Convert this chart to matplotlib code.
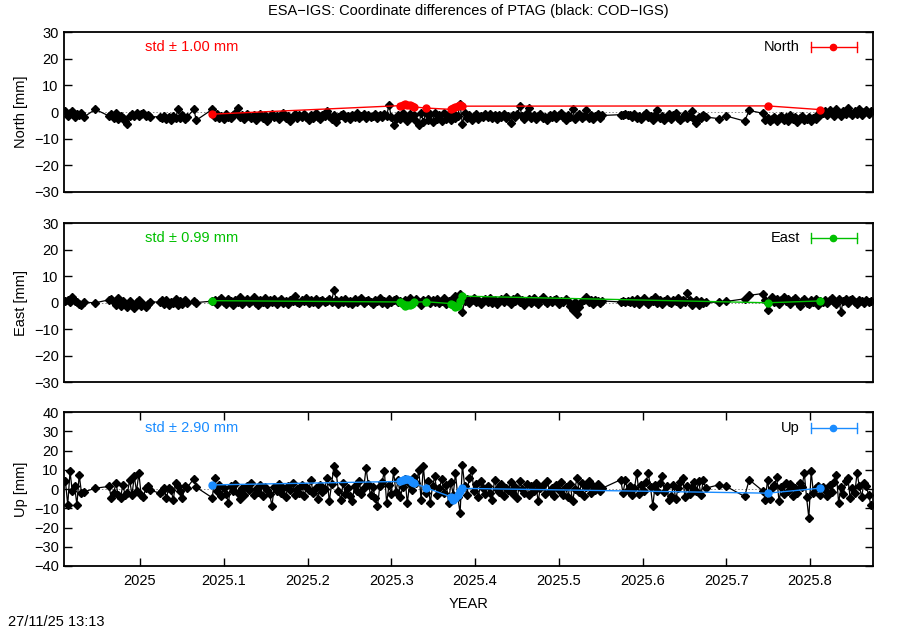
import matplotlib
matplotlib.use("Agg")
import matplotlib.pyplot as plt
import numpy as np

plt.rcParams['font.family'] = ['Liberation Sans', 'DejaVu Sans']
plt.rcParams['axes.unicode_minus'] = True

# COD-IGS daily epochs, day of year 2025 (0 = 1 Jan)
cod_days = (list(range(-33, -24)) + [-20] + list(range(-14, 5)) + list(range(8, 21))
            + [23, 24] + list(range(31, 202)) + list(range(209, 247))
            + [252, 255, 263, 265] + list(range(271, 319)))

cod_north = [
    0.3, -1.5, -0.5, 0.5, -1.8, -0.8, -1.2, -0.3, -1.9,
    1.0,
    -1.5, -0.9, -2.1, -0.2, -2.7, -1.5, -2.1, -3.4, -4.6, -1.5,
    -0.9, -1.5, -0.2, -1.5, -0.9, -0.2, -1.5, -1.0, -1.8,
    -1.8, -2.3, -1.5, -2.7, -2.0, -2.9, -1.6, -2.4, 1.0, -2.2, -1.3, -2.8, -1.9,
    1.0, -3.1,
    1.0, -1.8, -0.6, -2.2, -1.4, -2.8, -0.9, -1.7, -2.4, -1.1,
    -0.2, 1.5, -1.9, -1.3, -2.6, -0.8, -1.6, -2.1, -1.0, -2.9,
    -1.5, -0.7, -2.3, -1.2, -3.2, -1.8, -0.9, -2.0, -1.4, -2.7,
    -1.1, -0.4, -2.2, -1.6, -3.5, -1.9, -0.8, -2.4, -1.3, -2.0,
    -0.6, -1.7, -3.0, -1.2, -2.1, -0.5, -1.9, -2.6, -1.0, -1.6,
    0.3, -1.4, -2.5, -1.1, -3.7, -2.0, -1.3, -0.7, -2.2, -1.5,
    -2.8, -1.0, -1.8, -0.4, -2.3, -1.6, -0.9, -2.1, -1.2, -1.8,
    -1.5, -0.6, -2.4, -1.2, -2.0, -0.8, -1.5, 2.8, -1.8, -5.0,
    -2.5, -1.0, -2.8, -0.4, -1.6, -3.2, -0.9, -2.0, -1.2, -3.5,
    -5.0, -0.5, -3.8, -0.3, -2.9, -0.6, -3.6, -0.2, -2.5, -1.1,
    -3.4, -0.4, -2.7, -0.8, -3.1, -0.5, -2.2, -1.4, 3.0, -4.6,
    -0.5, -2.3, -1.2, -3.0, -1.7, -0.8, -2.5, -1.4, -2.0, -0.9,
    -1.8, -0.6, -2.2, -1.3, -2.8, -1.0, -1.9, -0.7, -2.4, -1.5,
    -4.3, -1.2, -2.0, -0.8, 2.3, -1.6, -2.5, -0.5, 1.6, -2.1,
    -1.0, -2.7, -1.4, -0.6, -2.2, -1.7, -3.0, -1.1, -1.9, -0.9,
    -2.4, -1.3, -0.5, -2.0, -2.9, -1.2, -1.8, 1.0, -2.6, -1.4,
    -0.8, -2.3, -1.5, 0.8, -2.1, -1.0, -2.7, -1.6, -0.7, -2.2,
    -1.3,
    -1.0, -1.2, -0.9, -1.3, -1.1, -1.8, -0.7, -2.2, -1.5, -2.6,
    -1.2, -0.4, -2.0, -1.6, -2.9, -1.0, 0.6, -2.3, -1.4, -3.1,
    -1.9, -0.8, -2.5, -1.3, -0.5, -2.1, -3.0, -1.7, -0.9, -2.2,
    -1.6, 0.4, -2.6, -4.3, -1.8, -2.4, -1.2, -1.9,
    -2.5, -1.5, -3.4, 0.6,
    -0.5, -3.0, -2.2, -3.5, -2.6, -1.8, -3.2, -2.4, -1.5, -2.9,
    -2.0, -3.4, -1.2, -2.7, -1.9, -3.6, -2.3, -1.4, -3.0, -2.5,
    -1.7, -3.3, -2.1, -2.8, -0.6, -1.2, -0.3, 0.2, -1.0, 0.8,
    -0.5, -1.4, 1.2, -0.2, -1.6, 0.5, -0.9, 1.5, -0.4, -1.2,
    0.3, -0.7, 1.0, -1.3, -0.1, 0.6, -0.8, 0.5,
]

cod_east = [
    0.8, 1.0, 0.3, 2.0, 0.5, 0.2, -0.3, -0.8, 0.2,
    0.0,
    1.1, 1.5, 0.3, -0.8, 1.7, -1.2, 0.5, -0.4, -1.5, 0.8,
    -0.6, -1.8, 0.2, 1.0, -1.1, -0.3, -1.6, -0.5, 0.4,
    0.2, 1.2, -0.5, 0.9, -1.0, 0.4, -0.2, 1.4, -0.8, 0.6, -0.3, 1.0, 0.1,
    0.8, 0.1,
    0.6, 1.2, -0.3, 0.9, 1.8, 0.2, -0.6, 1.4, 0.5, -0.9,
    1.0, 0.3, 2.2, -0.4, 0.8, 1.5, -0.2, 0.6, 2.0, 0.1,
    -0.7, 1.1, 0.4, 1.7, -0.3, 0.9, 0.2, 1.3, -0.5, 0.7,
    1.6, 0.0, 0.8, -0.6, 1.2, 0.5, 2.4, 0.3, -0.2, 1.0,
    0.6, 1.9, -0.1, 0.9, 0.4, 1.4, -0.4, 0.7, 1.1, 0.2,
    0.8, 1.6, 0.3, 5.0, 1.2, -0.3, 0.9, 0.4, 1.5, 0.0,
    0.7, -0.5, 1.3, 0.2, 0.9, 1.8, -0.2, 0.6, 1.1, 0.3,
    -0.4, 1.0, 0.5, 1.7, 0.1, 0.8, -0.6, 1.3, 0.4, 0.9,
    1.5, 0.2, 0.7, -0.3, 1.2, 0.6, 1.9, 0.0, 0.8, 1.4,
    0.3, -0.8, 1.0, 0.5, 1.6, -0.2, 0.9, 0.4, 1.3, 0.1,
    0.7, 1.8, -0.4, 0.6, 1.1, 0.2, 2.5, 0.9, 3.2, -3.3,
    0.5, 1.4, -0.2, 0.9, 1.7, 0.3, 1.0, -0.5, 0.8, 1.5,
    0.4, 1.9, 0.1, 1.2, -0.6, 0.8, 1.6, 0.3, 2.1, 0.5,
    -0.3, 1.3, 0.7, 2.0, 0.2, 1.1, -0.8, 0.6, 1.5, 0.0,
    1.7, 0.4, -0.5, 1.0, 2.3, 0.6, -0.2, 1.2, 0.3, 0.9,
    1.4, -0.4, 0.8, 0.2, 1.6, 0.5, -1.2, -2.8, 0.4, -4.4,
    -1.5, 0.6, 1.2, 2.0, 0.3, 0.9, -0.3, 1.1, 0.5, 0.0,
    0.7,
    0.3, 0.5, 0.2, 0.6, 0.4, 1.0, 0.1, 1.5, -0.3, 0.8,
    1.8, 0.2, -0.5, 1.2, 0.6, 2.0, 0.0, 1.0, -0.4, 0.7,
    1.4, 0.3, -0.2, 1.1, 0.5, 1.7, -0.6, 0.9, 0.2, 3.8,
    1.2, -0.8, 0.4, 1.0, -1.0, 0.6, 0.0, 0.2,
    0.2, 0.5, 1.5, 2.8,
    3.5, 1.2, -2.7, 0.8, 2.0, 0.4, 1.5, -0.3, 1.0, 2.2,
    0.5, 1.3, -0.6, 0.9, 1.8, 0.2, -1.2, 0.7, 1.4, 0.0,
    -0.5, 1.1, 0.3, 1.6, -0.8, 0.6, 0.2, 1.2, -0.2, 0.9,
    1.8, 0.4, -0.6, 1.5, -3.3, 0.7, 1.3, 0.1, 0.9, 1.6,
    0.3, -0.4, 1.2, 0.6, 0.0, 1.1, 0.4, 0.8,
]

cod_up = [
    4.0, -8.2, 9.2, -1.2, 1.5, -8.2, 7.4, -2.0, -1.5,
    0.5,
    1.4, -4.7, -2.1, 3.1, -3.0, -4.7, 2.2, -3.0, -2.1, 4.8,
    -3.0, 6.6, -1.2, 8.3, -3.0, -3.9, 0.5, 1.4, -0.5,
    -2.1, -1.2, 0.5, -4.7, 0.5, -0.3, -5.6, 3.1, 1.4, -1.2, -4.7, 1.4, 0.8,
    5.4, 1.0,
    -4.5, 5.7, -1.2, 2.0, -3.5, 0.8, -2.4, -7.3, 1.5, -0.8,
    2.6, -1.9, -5.0, 0.4, -2.8, 1.8, -0.5, 3.0, -3.2, 0.2,
    -1.5, 2.2, -3.8, 0.9, -0.3, -2.6, -8.7, 1.2, -1.0, 2.8,
    -2.2, 0.5, -4.0, 1.6, -0.7, 3.4, -2.9, 0.0, -1.8, 2.4,
    -3.6, 1.0, -0.4, 4.5, -2.0, 0.7, -5.2, 2.1, -1.3, 0.3,
    5.7, -6.4, 2.5, 11.8, 8.3, -1.0, -5.6, 3.2, -2.7, 0.6,
    -3.8, -6.4, 1.8, -0.9, 4.0, -2.3, 0.4, 10.9, 2.6, -3.1,
    0.9, -4.4, -9.0, 1.5, 3.8, 9.2, -7.3, 2.0, -2.5, 9.2,
    -1.4, 4.6, -3.9, 1.0, 5.5, -7.3, 2.8, -0.6, 6.2, 3.0,
    10.0, -5.6, 11.8, -2.0, 4.2, -7.3, 1.6, 6.8, -3.3, 0.5,
    5.2, -1.8, 2.4, -7.3, 3.6, -2.9, 8.3, -4.1, -12.5, 12.7,
    1.4, -3.0, 6.0, 10.0, -0.8, 2.5, -4.2, 4.0, 0.6, -2.4,
    1.8, -2.1, -5.6, 4.8, 0.3, -1.6, 2.9, -3.4, 0.8, -0.4,
    3.6, -2.7, 1.2, -4.5, 4.2, 0.0, -1.9, 2.6, -3.0, 1.5,
    -0.9, 3.1, -6.4, 0.7, 2.0, -2.4, 4.4, -1.1, 0.4, -3.6,
    2.3, -0.6, 3.8, -2.8, 1.0, -4.1, 2.7, -6.4, 0.2, 5.7,
    -1.7, 3.3, -3.5, 0.9, 4.0, -2.2, 1.8, -0.3, 2.5, -1.0,
    0.5,
    4.9, -2.1, 4.5, -0.5, 1.4, -2.8, 0.6, 8.3, -2.4, 2.0,
    -1.2, 3.5, 8.3, 1.0, -9.0, 2.4, -0.8, 3.0, 6.6, -1.5,
    1.6, -5.6, -3.8, 2.2, -5.2, 0.4, 3.6, 5.7, -4.0, 1.8,
    -2.6, 0.9, 3.9, -1.0, 4.0, -3.2, 4.9, 0.5,
    2.3, 1.4, -3.8, 4.9,
    -1.0, -5.6, 4.9, -5.0, 0.8, 2.2, 6.3, -6.4, 1.0, -2.5,
    3.0, -0.8, 2.6, -3.8, 0.5, -1.8, 3.4, 1.2, 8.3, -4.2,
    -15.1, 9.2, -2.0, 0.6, 1.4, -3.1, 0.9, -0.5, -3.8, 2.0,
    -1.6, 3.8, 7.5, -7.3, 1.2, -2.4, 4.0, 5.7, -4.6, 0.8,
    -2.2, 8.3, 1.6, -4.0, 3.2, 1.4, -2.8, -8.2,
]

# ESA-IGS epochs and values (with formal errors)
esa_days = [31, 113, 114, 115, 116, 117, 118, 119, 124,
            135, 136, 137, 138, 139, 140, 273, 296]
esa_north = [-0.8, 2.4, 2.8, 3.0, 2.7, 2.5, 2.2, 1.9, 1.5,
             1.0, 1.4, 1.8, 2.3, 2.6, 2.2, 2.3, 0.9]
esa_east = [0.8, 0.3, -0.5, -1.2, -0.8, -1.0, -0.3, 0.2, 0.4,
            -0.3, -1.0, -1.5, -1.2, 0.5, 2.5, 0.0, 0.7]
esa_up = [2.2, 4.0, 4.6, 5.2, 5.4, 4.8, 3.8, 3.1, 0.8,
          -4.0, -5.6, -4.5, -3.0, -1.0, 0.4, -2.1, 0.5]
esa_sig_north = [0.4, 0.5, 0.5, 0.4, 0.5, 0.4, 0.5, 0.4, 0.4,
                 0.5, 0.4, 0.5, 0.5, 0.4, 0.5, 0.4, 0.4]
esa_sig_east = [0.4, 0.4, 0.5, 0.4, 0.4, 0.5, 0.4, 0.4, 0.4,
                0.4, 0.5, 0.4, 0.4, 0.5, 0.4, 0.4, 0.4]
esa_sig_up = [0.9, 1.0, 1.1, 1.0, 0.9, 1.0, 1.1, 1.0, 0.9,
              1.1, 1.0, 1.0, 1.1, 0.9, 1.0, 0.9, 0.9]

std_values = ["1.00", "0.99", "2.90"]
xtick_vals = [2025.0, 2025.1, 2025.2, 2025.3, 2025.4, 2025.5, 2025.6, 2025.7, 2025.8]
xtick_labels = ["2025", "2025.1", "2025.2", "2025.3", "2025.4",
                "2025.5", "2025.6", "2025.7", "2025.8"]


def to_year(days):
    return 2025.0 + (np.asarray(days, dtype=float) + 0.5) / 365.0


t_cod = to_year(cod_days)
t_esa = to_year(esa_days)

fig = plt.figure(figsize=(9, 6.3), dpi=100)
boxes = [[0.0706, 0.6957, 0.8991, 0.2530],
         [0.0706, 0.3932, 0.8991, 0.2524],
         [0.0706, 0.1016, 0.8991, 0.2440]]

panels = [
    ("North", "North [mm]", cod_north, esa_north, esa_sig_north, "#ff0000", 30, 0.908),
    ("East", "East [mm]", cod_east, esa_east, esa_sig_east, "#00c000", 30, 0.908),
    ("Up", "Up [mm]", cod_up, esa_up, esa_sig_up, "#1a8cff", 40, 0.898),
]

for i, (name, ylab, cod, esa, sig, col, lim, ky) in enumerate(panels):
    ax = fig.add_axes(boxes[i])
    ax.axhline(0, color="#888888", ls=(0, (1.5, 2)), lw=0.7, zorder=1)
    ax.plot(t_cod, cod, "-", color="black", lw=0.9, marker="D", ms=4.2,
            mfc="black", mec="black", zorder=2)
    ax.errorbar(t_esa, esa, yerr=sig, fmt="-o", color=col, lw=1, ms=5,
                elinewidth=1, capsize=2, zorder=3)

    ax.set_xlim(2024.9087, 2025.8749)
    ax.set_ylim(-lim, lim)
    ax.set_yticks(np.arange(-lim, lim + 1, 10))
    ax.set_ylabel(ylab, fontsize=10.5, labelpad=4)
    ax.tick_params(direction="in", length=6, width=1, right=True, top=True,
                   labelsize=10.5)
    for sp in ax.spines.values():
        sp.set_linewidth(1.3)

    if i < 2:
        ax.set_xticks([])
    else:
        ax.set_xticks(xtick_vals)
        ax.set_xticklabels(xtick_labels)
        ax.tick_params(axis="x", pad=6)
        ax.set_xlabel("YEAR", fontsize=10.5, labelpad=6)

    # std label
    ax.text(0.1007, ky, "std \u00b1 " + std_values[i] + " mm", color=col,
            fontsize=10.5, ha="left", va="center", transform=ax.transAxes)

    # gnuplot-like key
    ax.text(0.910, ky, name, fontsize=10.5, ha="right", va="center",
            transform=ax.transAxes)
    ax.plot([0.924, 0.981], [ky, ky], color=col, lw=1, transform=ax.transAxes)
    for xe in (0.924, 0.981):
        ax.plot([xe, xe], [ky - 0.03, ky + 0.03], color=col, lw=1,
                transform=ax.transAxes)
    ax.plot([0.951], [ky], "o", color=col, ms=4.5, transform=ax.transAxes)

fig.text(0.52, 0.9825, "ESA\u2212IGS: Coordinate differences of PTAG (black: COD\u2212IGS)",
         ha="center", va="center", fontsize=10.5)
fig.text(0.009, 0.0127, "27/11/25 13:13", ha="left", va="center", fontsize=10.5)

fig.savefig("out.png", dpi=100)
